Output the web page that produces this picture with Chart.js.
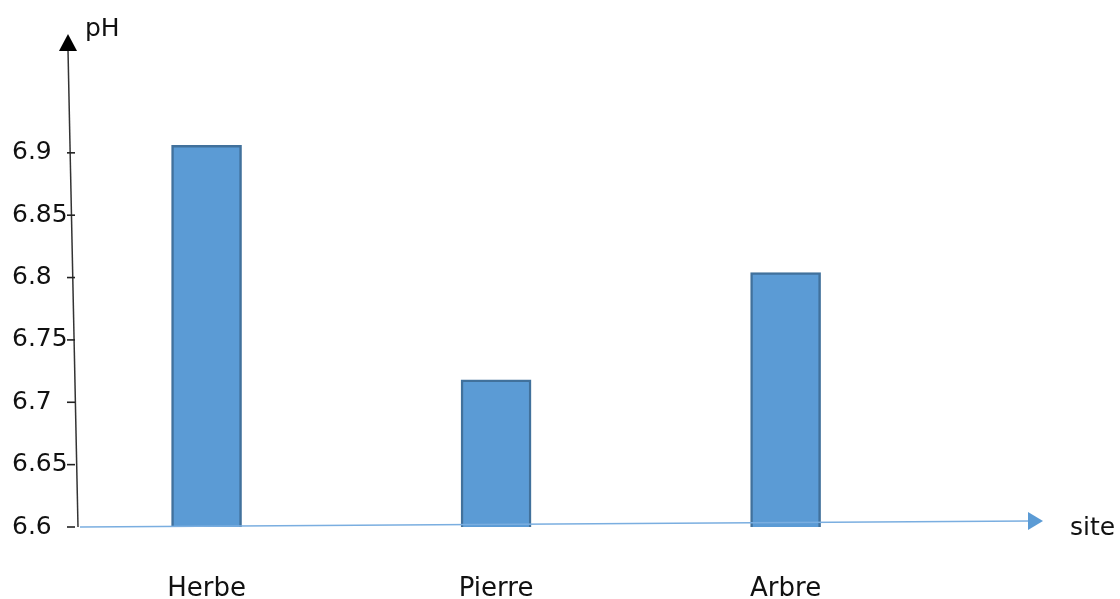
<!DOCTYPE html>
<html>
<head>
<meta charset="utf-8">
<script src="https://cdn.jsdelivr.net/npm/chart.js@4/dist/chart.umd.min.js"></script>
<style>
  html, body { margin: 0; padding: 0; background: #ffffff; }
  #wrap { width: 1120px; height: 599px; position: relative; }
</style>
</head>
<body>
<div id="wrap"><canvas id="c" width="1120" height="599"></canvas></div>
<script>
// ---- data ----
const categories = ["Herbe", "Pierre", "Arbre"];
const phValues = [6.906, 6.718, 6.804];
const yTickMin = 6.6;
const yTickMax = 6.9;
const yTickStep = 0.05;
const yAxisTitle = "pH";
const xAxisTitle = "site";

const FONT = "'DejaVu Sans', sans-serif";

const axesPlugin = {
  id: 'axesPlugin',
  afterDraw(chart) {
    const ctx = chart.ctx;
    const area = chart.chartArea;
    const ys = chart.scales.y;
    const bottom = ys.getPixelForValue(yTickMin);
    ctx.save();
    // y axis (slightly slanted) with arrow
    const topY = 50, topX = area.left - 10;
    ctx.strokeStyle = '#333333';
    ctx.lineWidth = 1.5;
    ctx.beginPath();
    ctx.moveTo(area.left, bottom);
    ctx.lineTo(topX, topY);
    ctx.stroke();
    ctx.fillStyle = '#000000';
    ctx.beginPath();
    ctx.moveTo(topX, 34);
    ctx.lineTo(topX - 9, 51);
    ctx.lineTo(topX + 9, 51);
    ctx.closePath();
    ctx.fill();
    // y tick dashes
    ctx.strokeStyle = '#222222';
    ctx.lineWidth = 1.6;
    ys.ticks.forEach(t => {
      const py = ys.getPixelForValue(t.value);
      ctx.beginPath();
      ctx.moveTo(area.left - 11, py);
      ctx.lineTo(area.left - 3, py);
      ctx.stroke();
    });
    // x axis (slightly rising) with arrow
    ctx.strokeStyle = '#7aaee0';
    ctx.lineWidth = 1.6;
    ctx.beginPath();
    ctx.moveTo(area.left + 2, bottom);
    ctx.lineTo(area.right - 15, bottom - 6);
    ctx.stroke();
    ctx.fillStyle = '#5b9bd5';
    ctx.beginPath();
    ctx.moveTo(area.right - 2, bottom - 6);
    ctx.lineTo(area.right - 17, bottom - 15);
    ctx.lineTo(area.right - 17, bottom + 3);
    ctx.closePath();
    ctx.fill();
    // titles
    ctx.fillStyle = '#111111';
    ctx.font = '25px ' + FONT;
    ctx.textAlign = 'left';
    ctx.textBaseline = 'alphabetic';
    ctx.fillText(yAxisTitle, 85, 36);
    ctx.textBaseline = 'middle';
    ctx.fillText(xAxisTitle, 1070, 528);
    ctx.restore();
  }
};

const data = {
  datasets: [{
    label: 'pH',
    data: categories.map((c, i) => ({ x: i, y: phValues[i] })),
    backgroundColor: '#5b9bd5',
    borderColor: '#41719c',
    borderWidth: 2.5,
    barThickness: 70,
    borderSkipped: false
  }]
};

new Chart(document.getElementById('c'), {
  type: 'bar',
  data: data,
  plugins: [axesPlugin],
  options: {
    responsive: false,
    animation: false,
    events: [],
    layout: { padding: { top: 78, left: 12, right: 75, bottom: 0 } },
    plugins: { legend: { display: false }, tooltip: { enabled: false } },
    scales: {
      x: {
        type: 'linear',
        offset: false,
        min: -0.444,
        max: 2.896,
        grid: { display: false, drawTicks: false, offset: false },
        border: { display: false },
        afterBuildTicks: (s) => { s.ticks = categories.map((c, i) => ({ value: i })); },
        afterFit: (s) => { s.height = 72; },
        ticks: {
          autoSkip: false,
          maxRotation: 0,
          padding: 47,
          color: '#111111',
          font: { family: FONT, size: 26 },
          callback: (v) => categories[v] !== undefined ? categories[v] : ''
        }
      },
      y: {
        min: yTickMin,
        max: 6.96,
        grid: { display: false, drawTicks: false },
        border: { display: false },
        afterBuildTicks: (s) => {
          const t = [];
          for (let v = yTickMin; v <= yTickMax + 1e-9; v += yTickStep) t.push({ value: +v.toFixed(2) });
          s.ticks = t;
        },
        afterFit: (s) => { s.width = 66; },
        ticks: {
          crossAlign: 'far',
          color: '#111111',
          font: { family: FONT, size: 25 },
          callback: (v) => String(+(+v).toFixed(2))
        }
      }
    }
  }
});
</script>
</body>
</html>
